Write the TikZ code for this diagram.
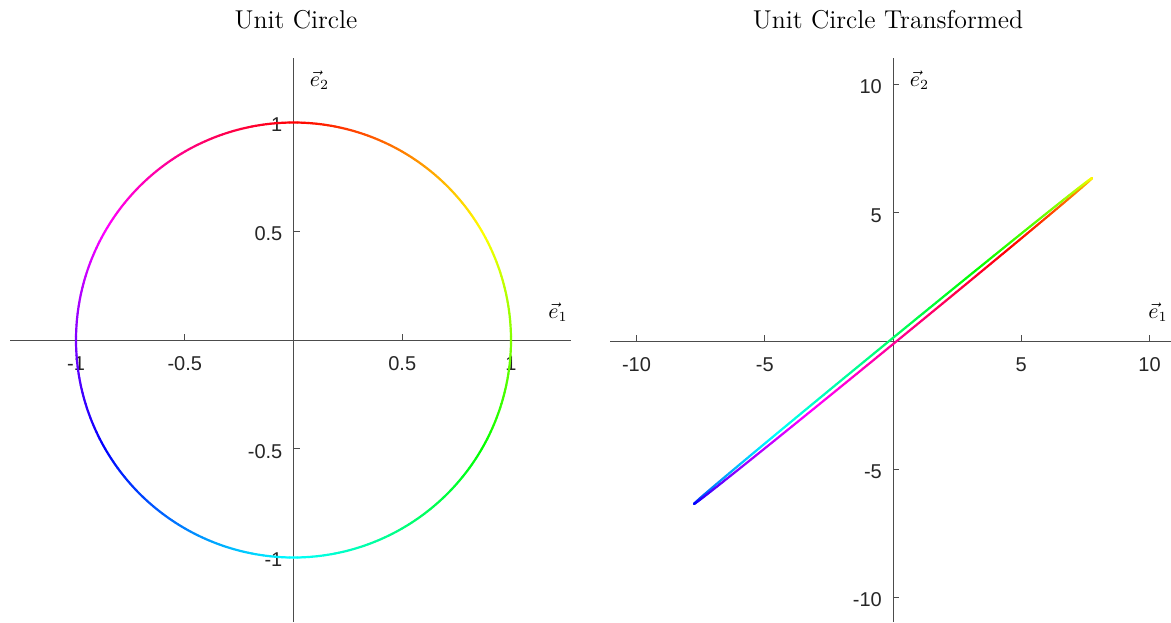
\documentclass[tikz,border=0pt]{standalone}
\usepackage{fontspec}
\newfontfamily\tickfont{Liberation Sans}
\begin{document}
\begin{tikzpicture}[x=0.5pt,y=-0.5pt,
  axisline/.style={draw=black!70, line width=0.5pt},
  tickmark/.style={draw=black!70, line width=0.5pt},
  ticklab/.style={font=\tickfont\fontsize{10}{12}\selectfont, inner sep=0pt, text=black!85},
  ttl/.style={font=\fontsize{12.9}{15}\selectfont, inner sep=0pt, anchor=base},
  elab/.style={inner sep=0pt, anchor=base west, font=\fontsize{10.5}{12}\selectfont},
  curve/.style={line width=1.1pt, line cap=round}]
\useasboundingbox (0,0) rectangle (1171,622);
% ---------- left plot ----------
\node[ttl] (t1) at (296,28) {Unit Circle};
\coordinate (lxa) at (10,340);
\coordinate (lxb) at (571,340);
\coordinate (lya) at (293.5,58);
\coordinate (lyb) at (293.5,622);
\draw[axisline] (lxa) -- (lxb);
\draw[axisline] (lya) -- (lyb);
\foreach \v/\s in {-1/-1,-0.5/-0.5,0.5/0.5,1/1}{
  \pgfmathsetmacro\px{293.5+217.5*\v}
  \pgfmathsetmacro\py{340-217.5*\v}
  \draw[tickmark] (\px,340) -- ++(0,-6);
  \node[ticklab, anchor=base] at (\px,370) {\s};
  \draw[tickmark] (293.5,\py) -- ++(6,0);
  \node[ticklab, anchor=base east] at (282.7,\py+9.3) {\s};
}
\node[elab] (le1) at (548,318) {$\vec{e}_1$};
\node[elab] (le2) at (309.5,86) {$\vec{e}_2$};
\foreach \t in {0,...,359}{
  \definecolor{cc}{Hsb}{\t,1,1}
  \draw[curve, cc] ({293.5+217.5*sin(\t)},{340-217.5*cos(\t)}) -- ({293.5+217.5*sin(\t+1)},{340-217.5*cos(\t+1)});
}
% ---------- right plot ----------
\node[ttl] (t2) at (888,28) {Unit Circle Transformed};
\coordinate (rxa) at (610,341);
\coordinate (rxb) at (1171,341);
\coordinate (rya) at (893,58);
\coordinate (ryb) at (893,622);
\draw[axisline] (rxa) -- (rxb);
\draw[axisline] (rya) -- (ryb);
\foreach \v/\s in {-10/-10,-5/-5,5/5,10/10}{
  \pgfmathsetmacro\px{893+25.65*\v}
  \pgfmathsetmacro\py{341-25.65*\v}
  \draw[tickmark] (\px,341) -- ++(0,-6);
  \node[ticklab, anchor=base] at (\px,371) {\s};
  \draw[tickmark] (893,\py) -- ++(6,0);
  \node[ticklab, anchor=base east] at (882.2,\py+9.3) {\s};
}
\node[elab] (re1) at (1148,318) {$\vec{e}_1$};
\node[elab] (re2) at (909.5,86) {$\vec{e}_2$};
\foreach \t in {0,...,359}{
  \definecolor{cc}{Hsb}{\t,1,1}
  \pgfmathsetmacro\pa{55-\t}
  \pgfmathsetmacro\pb{54-\t}
  \draw[curve, cc] ({893+25.65*(7.753*cos(\pa)+0.06*sin(\pa))},{341-25.65*(6.347*cos(\pa)-0.0735*sin(\pa))}) -- ({893+25.65*(7.753*cos(\pb)+0.06*sin(\pb))},{341-25.65*(6.347*cos(\pb)-0.0735*sin(\pb))});
}
\end{tikzpicture}
\end{document}
